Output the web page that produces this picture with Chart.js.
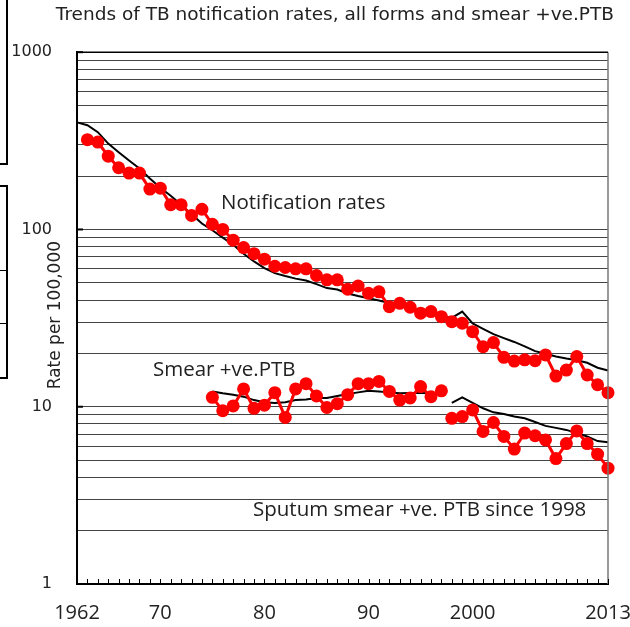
<!DOCTYPE html>
<html>
<head>
<meta charset="utf-8">
<script src="https://cdn.jsdelivr.net/npm/chart.js@4"></script>
<style>
  body { margin: 0; background: #fff; }
  #wrap { position: relative; width: 630px; height: 627px; }
  .edge { position: absolute; border: 2px solid #000; border-left: none; }
  .rule { position: absolute; left: 0; width: 8px; height: 0; border-top: 1px solid #000; }
</style>
</head>
<body>
<div id="wrap">
  <canvas id="myChart"></canvas>
  <!-- cropped boxes from the neighbouring panel -->
  <div class="edge" style="left:-2px; top:-2px; width:8px; height:163px;"></div>
  <div class="edge" style="left:-2px; top:185px; width:8px; height:190px;"></div>
  <div class="rule" style="top:270px;"></div>
  <div class="rule" style="top:323px;"></div>
</div>
<script>
// --- data ---
const notifRedStart = 1963;
const notifRed = [321, 311, 259, 223, 208, 208, 169, 171, 138, 138, 120, 130, 107,
    100, 87, 79, 73, 68, 62, 61, 60, 60, 55, 52, 52,
    46, 48, 43.6, 44.5, 36.7, 38.3, 36.4, 33.7, 34.4, 32.2, 30.2, 29.6, 26.5,
    21.8, 23.0, 19.0, 18.1, 18.4, 18.2, 19.6, 14.9, 16.1, 19.2, 15.1, 13.3, 12.0];

const notifBlackStart = 1962;
const notifBlack = [402, 387, 354, 305, 273, 245, 221, 194, 172, 155, 138, 122, 108, 99,
    90, 82, 73, 66, 60.5, 56.7, 54.6, 52.8, 51.5, 49.2, 46.7, 45.8,
    43.5, 42.1, 40.9, 39.7, 38.5, 37.2, 36.0, 34.9, 33.8, 32.7, 31.7, 34.4, 29.5,
    27.5, 25.7, 24.4, 23.2, 21.9, 20.6, 19.9, 19.2, 18.7, 18.3, 17.7, 16.6, 16.0];

const smearStart = 1975;
const smearRed = [11.3, 9.5, 10.1, 12.6, 9.8, 10.2, 12.0, 8.7, 12.6, 13.5, 11.5, 9.9,
    10.4, 11.7, 13.5, 13.5, 13.9, 12.2, 10.9, 11.2, 13.0, 11.4, 12.3];
const smearBlack = [12.2, 11.9, 11.7, 11.4, 10.9, 10.6, 10.5, 10.6, 10.9, 11.0, 11.2, 11.2,
    11.5, 11.8, 12.05, 12.3, 12.2, 12.05, 11.9, 11.95, 11.95, 11.9, 11.9];

const sputumStart = 1998;
const sputumRed = [8.6, 8.8, 9.6, 7.25, 8.15, 6.8, 5.77, 7.1, 6.86, 6.5, 5.1, 6.2, 7.3, 6.2, 5.4, 4.5];
const sputumBlack = [10.5, 11.3, 10.5, 9.8, 9.3, 9.1, 8.8, 8.6, 8.2, 7.8, 7.6, 7.4, 7.1, 6.8, 6.4, 6.3];

const xTickYears = [1962, 1970, 1980, 1990, 2000, 2013];
const xTickLabels = ["1962", "70", "80", "90", "2000", "2013"];
const yMajorTicks = [1, 10, 100, 1000];

const FONT = "'DejaVu Sans', Verdana, sans-serif";
const FONT2 = "'Open Sans', 'Noto Sans', sans-serif";

// turn a start year + values into {x, y} points
function toPoints(start, values) {
    return values.map((v, i) => ({ x: start + i, y: v }));
}

function redSeries(start, values) {
    return {
        data: toPoints(start, values),
        borderColor: '#ff0000',
        backgroundColor: '#ff0000',
        borderWidth: 3,
        pointRadius: 6.5,
        pointBorderWidth: 0,
        pointHoverRadius: 6.5,
        clip: false
    };
}

function blackSeries(start, values) {
    return {
        data: toPoints(start, values),
        borderColor: '#000000',
        borderWidth: 2,
        pointRadius: 0,
        clip: false
    };
}

// extra drawing: inward ticks, borders and the text labels
const decorations = {
    id: 'decorations',
    afterDraw(chart) {
        const ctx = chart.ctx;
        const a = chart.chartArea;
        const xs = chart.scales.x;
        const ys = chart.scales.y;
        ctx.save();
        // right border
        ctx.strokeStyle = '#777';
        ctx.lineWidth = 1.5;
        ctx.beginPath();
        ctx.moveTo(a.right, a.top);
        ctx.lineTo(a.right, a.bottom);
        ctx.stroke();
        // top border
        ctx.strokeStyle = '#000';
        ctx.lineWidth = 1.5;
        ctx.beginPath();
        ctx.moveTo(a.left, a.top);
        ctx.lineTo(a.right, a.top);
        ctx.stroke();
        // yearly ticks on the bottom axis, pointing up
        ctx.lineWidth = 1;
        for (let yr = xs.min; yr <= xs.max; yr++) {
            const px = Math.round(xs.getPixelForValue(yr)) + 0.5;
            ctx.beginPath();
            ctx.moveTo(px, a.bottom);
            ctx.lineTo(px, a.bottom - 5);
            ctx.stroke();
        }
        // major ticks on the left axis
        ctx.lineWidth = 2;
        yMajorTicks.forEach(v => {
            const py = ys.getPixelForValue(v);
            ctx.beginPath();
            ctx.moveTo(a.left, py);
            ctx.lineTo(a.left + 6, py);
            ctx.stroke();
        });
        // axis title, between the tick labels and the axis
        ctx.fillStyle = '#222';
        ctx.font = '17px ' + FONT;
        ctx.textAlign = 'center';
        ctx.textBaseline = 'middle';
        ctx.translate(56, (a.top + a.bottom) / 2 - 3);
        ctx.rotate(-Math.PI / 2);
        ctx.fillText('Rate per 100,000', 0, 0);
        ctx.restore();

        // series labels
        ctx.save();
        ctx.fillStyle = '#222';
        ctx.textAlign = 'left';
        ctx.textBaseline = 'middle';
        ctx.font = '20.5px ' + FONT2;
        ctx.fillText('Notification rates', 221, 203);
        ctx.fillText('Smear +ve.PTB', 153, 370);
        ctx.fillText('Sputum smear +ve. PTB since 1998', 253, 510);
        ctx.restore();
    }
};

const ctx = document.getElementById('myChart').getContext('2d');
const myChart = new Chart(ctx, {
    type: 'line',
    data: {
        datasets: [
            redSeries(notifRedStart, notifRed),
            redSeries(smearStart, smearRed),
            redSeries(sputumStart, sputumRed),
            blackSeries(notifBlackStart, notifBlack),
            blackSeries(smearStart, smearBlack),
            blackSeries(sputumStart, sputumBlack)
        ]
    },
    options: {
        responsive: true,
        maintainAspectRatio: false,
        animation: false,
        layout: { padding: { left: 0, right: 16, top: 0, bottom: 0 } },
        plugins: {
            legend: { display: false },
            tooltip: { enabled: false },
            title: {
                display: true,
                text: 'Trends of TB notification rates, all forms and smear +ve.PTB',
                color: '#222',
                font: { family: FONT, size: 18.5, weight: 'normal' },
                padding: { top: 4, bottom: 26 },
                align: 'end'
            }
        },
        scales: {
            x: {
                type: 'linear',
                min: 1962,
                max: 2013,
                afterBuildTicks: (scale) => {
                    scale.ticks = xTickYears.map(v => ({ value: v }));
                },
                afterFit: (scale) => {
                    scale.height = 43;
                    scale.paddingLeft = 0;
                    scale.paddingRight = 22;
                },
                ticks: {
                    autoSkip: false,
                    maxRotation: 0,
                    padding: 17,
                    color: '#222',
                    font: { family: FONT2, size: 20 },
                    callback: (v) => xTickLabels[xTickYears.indexOf(v)]
                },
                grid: { display: false, drawTicks: false },
                border: { display: true, color: '#000', width: 2 }
            },
            y: {
                type: 'logarithmic',
                min: 1,
                max: 1000,
                afterBuildTicks: (scale) => {
                    const t = [];
                    for (let p = 1; p < 1000; p *= 10) {
                        for (let m = 1; m < 10; m++) t.push({ value: m * p });
                    }
                    t.push({ value: 1000 });
                    scale.ticks = t;
                },
                afterFit: (scale) => { scale.width = 77; },
                ticks: {
                    autoSkip: false,
                    padding: 25,
                    color: '#222',
                    font: { family: FONT, size: 16 },
                    callback: (v) => yMajorTicks.includes(v) ? String(v) : ''
                },
                grid: { color: '#444', lineWidth: 1, drawTicks: false },
                border: { display: true, color: '#000', width: 2 }
            }
        }
    },
    plugins: [decorations]
});
</script>
</body>
</html>
